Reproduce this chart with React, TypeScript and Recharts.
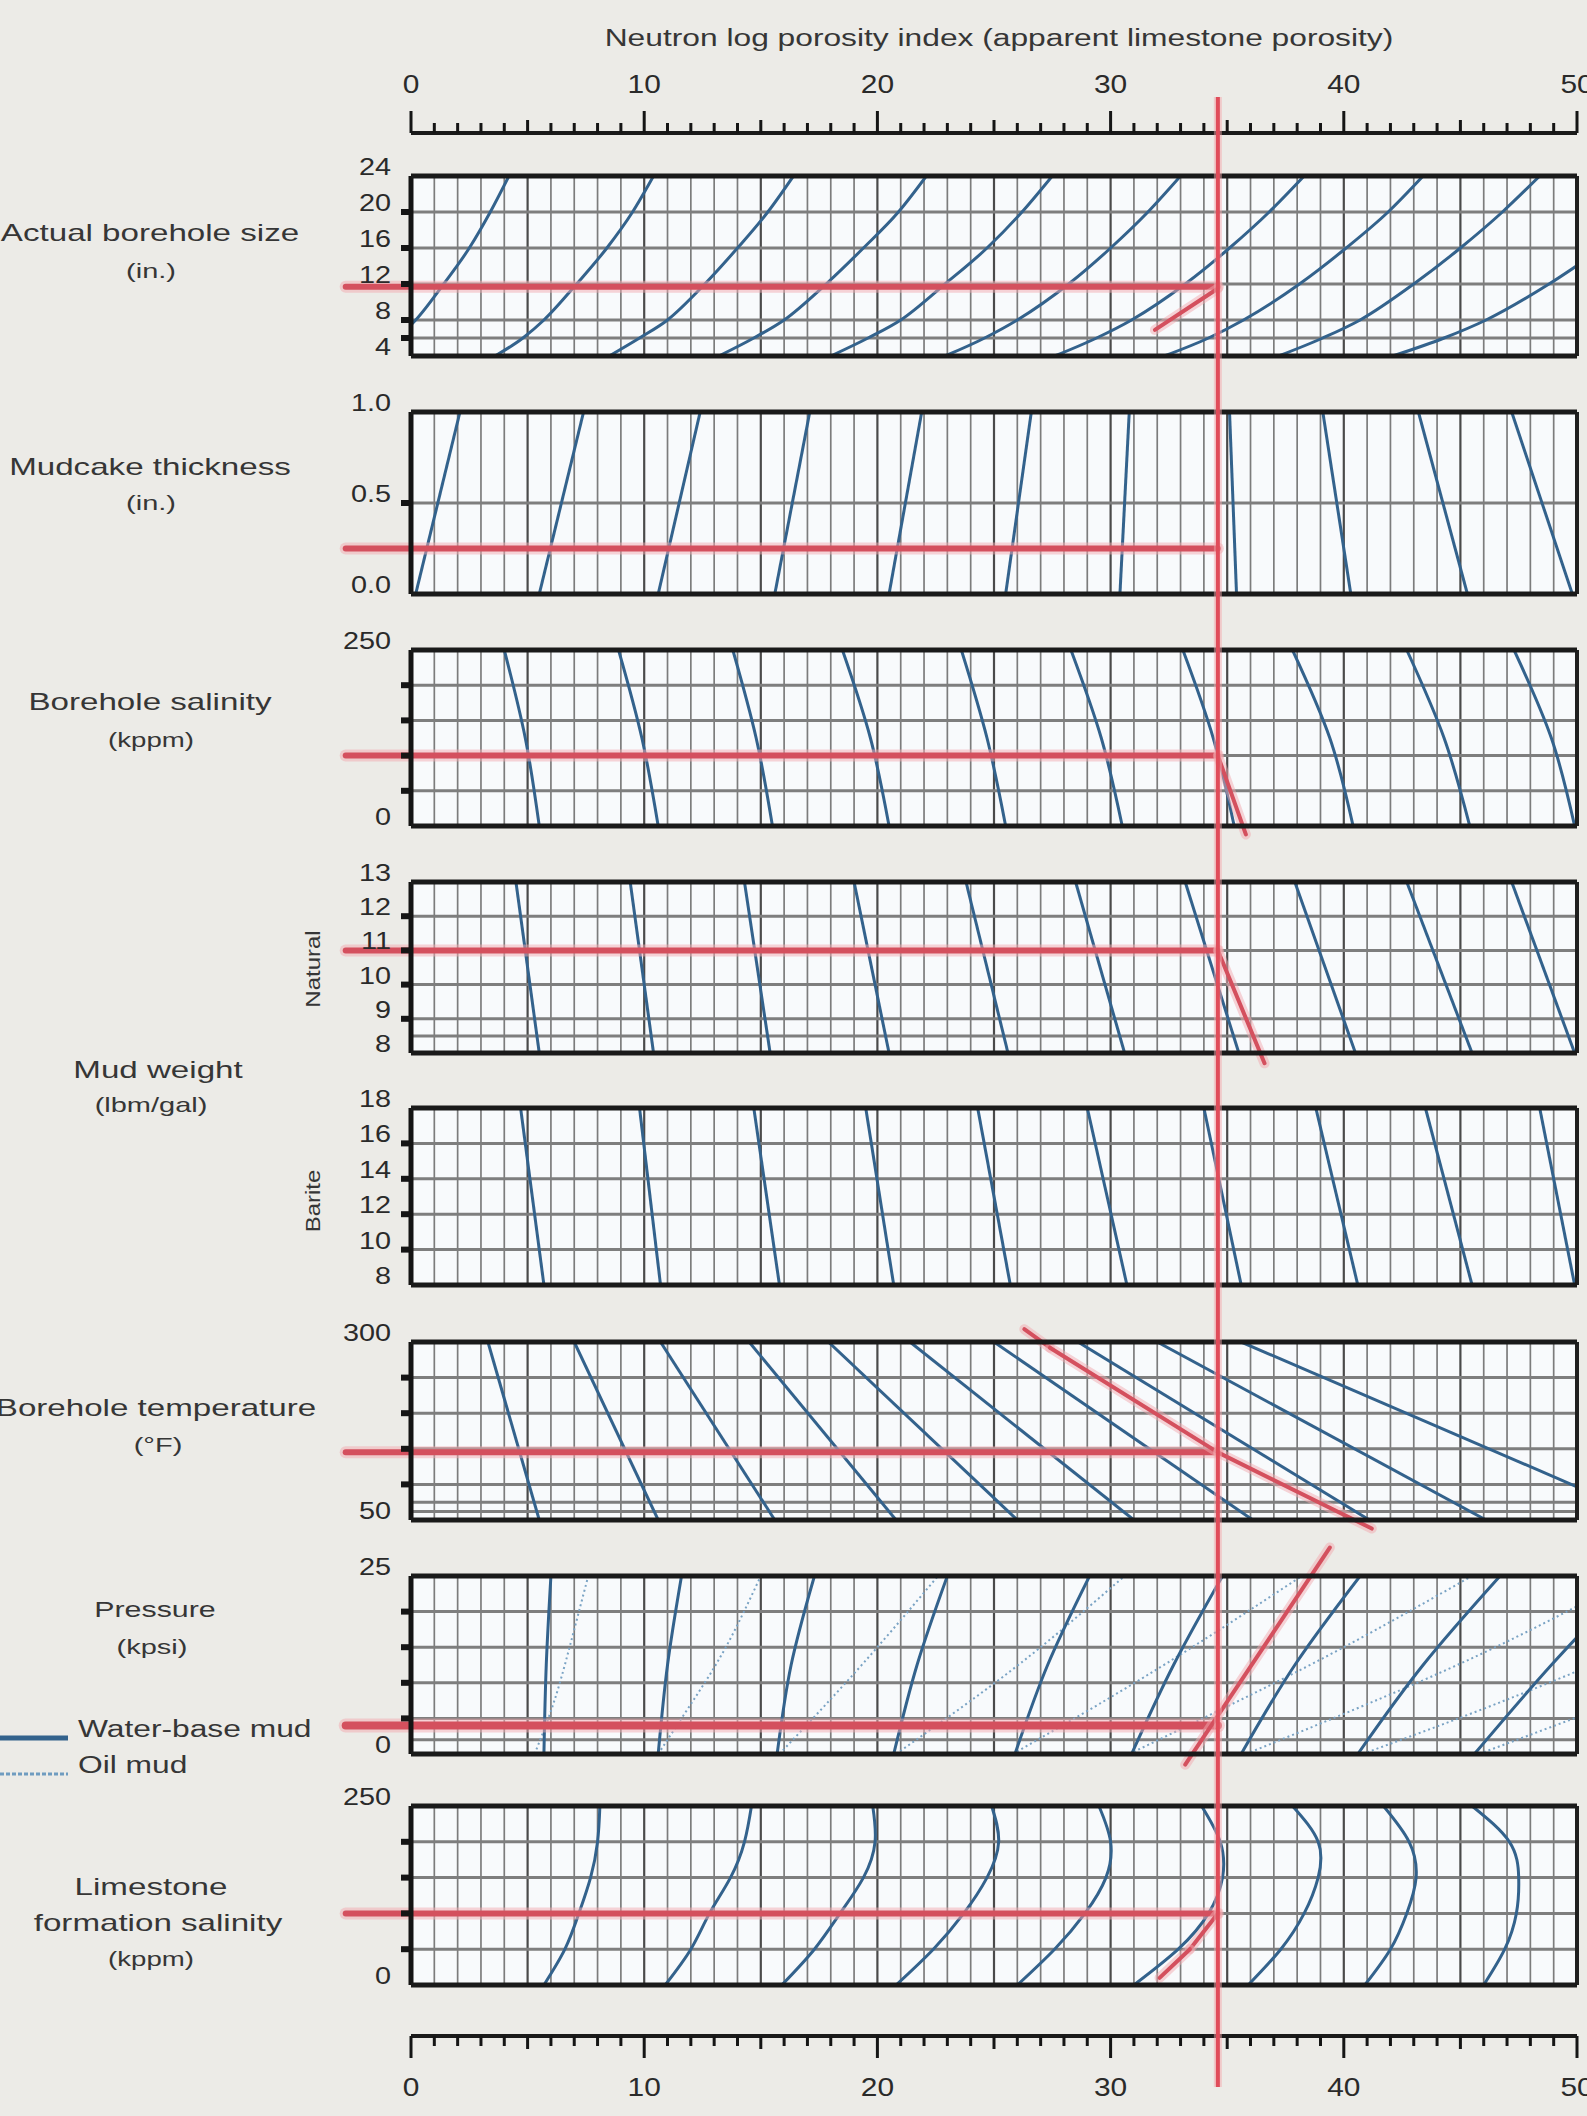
import React from 'react';
import { LineChart, Line, XAxis, YAxis, ReferenceLine, ReferenceArea } from 'recharts';

type Pair = [number, number];

// ---------- shared porosity scale ----------
const porosityGrid = [0,1,2,3,4,5,6,7,8,9,10,11,12,13,14,15,16,17,18,19,20,21,22,23,24,25,26,27,28,29,30,31,32,33,34,35,36,37,38,39,40,41,42,43,44,45,46,47,48,49,50];
const porosityLabelled = [0, 10, 20, 30, 40, 50];
const chosenPorosity = 34.6;
const redLeftEnd = -2.8;
const axisDummy = [{ p: 0, v: 0 }, { p: 50, v: 1 }];

// ---------- 1. Actual borehole size (in.) ----------
const sizeDomain: Pair = [4, 24];
const sizeTicks = [4, 6, 8, 12, 16, 20, 24];
const sizeTickLabels = ['4', '', '8', '12', '16', '20', '24'];
const sizeStubs = [6, 8, 12, 16, 20];
const sizeGrid = [6, 8, 12, 16, 20];
const sizeCurves: Pair[][] = [
  [[-1.6,4],[-0.6,6],[0.2,8],[1.4,12],[2.5,16],[3.4,20],[4.2,24]],
  [[3.6,4],[4.8,6],[5.7,8],[7.1,12],[8.4,16],[9.5,20],[10.4,24]],
  [[8.5,4],[9.8,6],[11.0,8],[12.6,12],[14.0,16],[15.3,20],[16.4,24]],
  [[13.2,4],[14.7,6],[16.0,8],[17.8,12],[19.4,16],[20.9,20],[22.1,24]],
  [[18.0,4],[19.6,6],[21.0,8],[22.9,12],[24.7,16],[26.2,20],[27.5,24]],
  [[22.9,4],[24.6,6],[26.0,8],[28.2,12],[30.0,16],[31.6,20],[33.0,24]],
  [[27.6,4],[29.4,6],[30.9,8],[33.2,12],[35.1,16],[36.8,20],[38.3,24]],
  [[32.3,4],[34.2,6],[35.7,8],[38.1,12],[40.1,16],[41.9,20],[43.4,24]],
  [[37.2,4],[39.1,6],[40.7,8],[43.0,12],[45.0,16],[46.8,20],[48.4,24]],
  [[42.1,4],[44.3,6],[46.1,8],[48.8,12],[51.1,16]],
];
const sizeRedLevel = 11.7;
const sizeRedPath: Pair[] = [[31.9, 6.9], [34.6, 11.5]];

// ---------- 2. Mudcake thickness (in.) ----------
const mudcakeDomain: Pair = [0, 1];
const mudcakeTicks = [0, 0.5, 1];
const mudcakeTickLabels = ['0.0', '0.5', '1.0'];
const mudcakeStubs = [0.5];
const mudcakeGrid = [0.5];
const mudcakeCurves: Pair[][] = [
  [[0.2,0],[2.1,1]], [[5.5,0],[7.4,1]], [[10.6,0],[12.4,1]], [[15.6,0],[17.1,1]],
  [[20.5,0],[21.9,1]], [[25.5,0],[26.6,1]], [[30.4,0],[30.8,1]], [[35.4,0],[35.1,1]],
  [[40.3,0],[39.1,1]], [[45.3,0],[43.2,1]], [[49.8,0],[47.2,1]],
];
const mudcakeRedLevel = 0.25;

// ---------- 3. Borehole salinity (kppm) ----------
const bhSalDomain: Pair = [0, 250];
const bhSalTicks = [0, 50, 100, 150, 200, 250];
const bhSalTickLabels = ['0', '', '', '', '', '250'];
const bhSalStubs = [50, 100, 150, 200];
const bhSalGrid = [50, 100, 150, 200];
const bhSalCurves: Pair[][] = [
  [[5.5,0],[4.9,125],[4.0,250]], [[10.6,0],[9.9,125],[8.9,250]], [[15.5,0],[14.8,125],[13.8,250]],
  [[20.5,0],[19.7,125],[18.5,250]], [[25.5,0],[24.7,125],[23.6,250]], [[30.5,0],[29.6,125],[28.3,250]],
  [[35.3,0],[34.4,125],[33.1,250]], [[40.4,0],[39.4,125],[37.8,250]], [[45.4,0],[44.3,125],[42.7,250]],
  [[49.9,0],[48.9,125],[47.3,250]],
];
const bhSalRedLevel = 100;
const bhSalRedPath: Pair[] = [[34.6, 100], [35.8, -12]];

// ---------- 4. Mud weight, natural (lbm/gal) ----------
const naturalDomain: Pair = [8, 13];
const naturalTicks = [8, 8.5, 9, 10, 11, 12, 13];
const naturalTickLabels = ['8', '', '9', '10', '11', '12', '13'];
const naturalStubs = [9, 10, 11, 12];
const naturalGrid = [8.5, 9, 10, 11, 12];
const naturalCurves: Pair[][] = [
  [[5.5,8],[4.5,13]], [[10.4,8],[9.4,13]], [[15.4,8],[14.3,13]], [[20.5,8],[19.0,13]],
  [[25.6,8],[23.8,13]], [[30.6,8],[28.5,13]], [[35.5,8],[33.2,13]], [[40.5,8],[37.9,13]],
  [[45.5,8],[42.7,13]], [[49.9,8],[47.2,13]],
];
const naturalRedLevel = 11;
const naturalRedPath: Pair[] = [[34.6, 11], [36.6, 7.7]];

// ---------- 5. Mud weight, barite (lbm/gal) ----------
const bariteDomain: Pair = [8, 18];
const bariteTicks = [8, 10, 12, 14, 16, 18];
const bariteTickLabels = ['8', '10', '12', '14', '16', '18'];
const bariteStubs = [10, 12, 14, 16];
const bariteGrid = [10, 12, 14, 16];
const bariteCurves: Pair[][] = [
  [[5.7,8],[4.7,18]], [[10.7,8],[9.8,18]], [[15.8,8],[14.7,18]], [[20.7,8],[19.5,18]],
  [[25.7,8],[24.3,18]], [[30.7,8],[29.0,18]], [[35.6,8],[34.0,18]], [[40.6,8],[38.8,18]],
  [[45.5,8],[43.5,18]], [[49.9,8],[48.4,18]],
];

// ---------- 6. Borehole temperature (°F) ----------
const tempDomain: Pair = [50, 300];
const tempTicks = [50, 62, 75, 100, 150, 200, 250, 300];
const tempTickLabels = ['50', '', '', '', '', '', '', '300'];
const tempStubs = [100, 150, 200, 250];
const tempGrid = [62, 75, 100, 150, 200, 250];
const tempCurves: Pair[][] = [
  [[5.5,50],[3.3,300]], [[10.6,50],[7.0,300]], [[15.6,50],[10.7,300]], [[20.8,50],[14.5,300]],
  [[26.0,50],[17.9,300]], [[31.0,50],[21.4,300]], [[36.1,50],[25.0,300]], [[41.1,50],[28.6,300]],
  [[46.1,50],[32.0,300]], [[53.3,50],[35.6,300]],
];
const tempRedLevel = 145;
const tempRedPath: Pair[] = [[26.3, 318], [27.4, 292], [34.6, 145], [41.2, 38]];

// ---------- 7. Pressure (kpsi) ----------
const pressDomain: Pair = [0, 25];
const pressTicks = [0, 2, 5, 10, 15, 20, 25];
const pressTickLabels = ['0', '', '', '', '', '', '25'];
const pressStubs = [5, 10, 15, 20];
const pressGrid = [2, 5, 10, 15, 20];
const pressWaterCurves: Pair[][] = [
  [[5.7,0],[5.8,12.5],[6.0,25]], [[10.6,0],[11.0,12.5],[11.6,25]], [[15.7,0],[16.3,12.5],[17.3,25]],
  [[20.7,0],[21.7,12.5],[23.0,25]], [[25.9,0],[27.3,12.5],[29.1,25]], [[30.9,0],[32.7,12.5],[34.8,25]],
  [[35.6,0],[37.9,12.5],[40.7,25]], [[40.6,0],[43.4,12.5],[46.7,25]], [[45.6,0],[48.9,12.5],[52.5,25]],
];
const pressOilCurves: Pair[][] = [
  [[5.3,0],[6.1,7],[6.8,15],[7.6,25]], [[10.6,0],[12.0,7],[13.5,15],[15.0,25]],
  [[15.8,0],[17.8,7],[20.0,15],[22.6,25]], [[20.8,0],[23.8,7],[27.0,15],[30.6,25]],
  [[25.8,0],[29.5,7],[33.5,15],[38.2,25]], [[30.8,0],[35.2,7],[40.0,15],[45.5,25]],
  [[35.8,0],[41.0,7],[46.5,15],[52.5,25]], [[40.8,0],[46.5,7],[52.5,15]], [[45.8,0],[51.5,7]],
];
const pressRedLevel = 4;
const pressRedPath: Pair[] = [[33.2, -1.5], [39.4, 29]];

// ---------- 8. Limestone formation salinity (kppm) ----------
const fmSalDomain: Pair = [0, 250];
const fmSalTicks = [0, 50, 100, 150, 200, 250];
const fmSalTickLabels = ['0', '', '', '', '', '250'];
const fmSalStubs = [50, 100, 150, 200];
const fmSalGrid = [50, 100, 150, 200];
const fmSalCurves: Pair[][] = [
  [[5.7,0],[6.6,50],[7.2,100],[7.7,150],[8.0,200],[8.1,250]],
  [[10.9,0],[12.0,50],[12.8,100],[13.7,150],[14.3,200],[14.6,250]],
  [[15.9,0],[17.3,50],[18.4,100],[19.4,150],[19.9,200],[19.8,250]],
  [[20.8,0],[22.4,50],[23.7,100],[24.7,150],[25.2,200],[24.9,250]],
  [[26.0,0],[27.6,50],[28.9,100],[29.8,150],[30.0,200],[29.5,250]],
  [[31.0,0],[32.9,50],[34.2,100],[34.8,150],[34.7,200],[33.9,250]],
  [[35.9,0],[37.3,50],[38.3,100],[38.9,150],[38.9,200],[37.8,250]],
  [[40.9,0],[42.0,50],[42.7,100],[43.1,150],[42.8,200],[41.7,250]],
  [[46.0,0],[46.9,50],[47.4,100],[47.5,150],[47.1,200],[45.5,250]],
];
const fmSalRedLevel = 100;
const fmSalRedPath: Pair[] = [[34.6, 100], [33.4, 50], [32.1, 10]];

// ---------- layout ----------
const PAGE_W = 1587;
const PAGE_H = 2116;
const PLOT_L = 411;
const PLOT_R = 1577;
const FONT = '"Liberation Sans", Arial, Helvetica, sans-serif';
const BLUE = '#33628c';
const RED = '#d4505e';

interface PanelSpec {
  top: number;
  height: number;
  domain: Pair;
  ticks: number[];
  tickLabels: string[];
  stubs: number[];
  grid: number[];
  curves: Pair[][];
  dotted?: Pair[][];
  smooth: 'linear' | 'monotone' | 'natural';
  redLevel?: number;
  redPath?: Pair[];
  redWidth?: number;
}

const panels: PanelSpec[] = [
  { top: 176, height: 180, domain: sizeDomain, ticks: sizeTicks, tickLabels: sizeTickLabels, stubs: sizeStubs, grid: sizeGrid, curves: sizeCurves, smooth: 'monotone', redLevel: sizeRedLevel, redPath: sizeRedPath },
  { top: 412, height: 182, domain: mudcakeDomain, ticks: mudcakeTicks, tickLabels: mudcakeTickLabels, stubs: mudcakeStubs, grid: mudcakeGrid, curves: mudcakeCurves, smooth: 'linear', redLevel: mudcakeRedLevel },
  { top: 650, height: 176, domain: bhSalDomain, ticks: bhSalTicks, tickLabels: bhSalTickLabels, stubs: bhSalStubs, grid: bhSalGrid, curves: bhSalCurves, smooth: 'natural', redLevel: bhSalRedLevel, redPath: bhSalRedPath },
  { top: 882, height: 171, domain: naturalDomain, ticks: naturalTicks, tickLabels: naturalTickLabels, stubs: naturalStubs, grid: naturalGrid, curves: naturalCurves, smooth: 'linear', redLevel: naturalRedLevel, redPath: naturalRedPath },
  { top: 1108, height: 177, domain: bariteDomain, ticks: bariteTicks, tickLabels: bariteTickLabels, stubs: bariteStubs, grid: bariteGrid, curves: bariteCurves, smooth: 'linear' },
  { top: 1342, height: 178, domain: tempDomain, ticks: tempTicks, tickLabels: tempTickLabels, stubs: tempStubs, grid: tempGrid, curves: tempCurves, smooth: 'linear', redLevel: tempRedLevel, redPath: tempRedPath },
  { top: 1576, height: 178, domain: pressDomain, ticks: pressTicks, tickLabels: pressTickLabels, stubs: pressStubs, grid: pressGrid, curves: pressWaterCurves, dotted: pressOilCurves, smooth: 'natural', redLevel: pressRedLevel, redPath: pressRedPath, redWidth: 8 },
  { top: 1806, height: 179, domain: fmSalDomain, ticks: fmSalTicks, tickLabels: fmSalTickLabels, stubs: fmSalStubs, grid: fmSalGrid, curves: fmSalCurves, smooth: 'natural', redLevel: fmSalRedLevel, redPath: fmSalRedPath },
];

const toPts = (c: Pair[]) => c.map(([p, v]) => ({ p, v }));

function redSegments(path: Pair[], keyBase: string, width: number) {
  const out: React.ReactNode[] = [];
  for (let i = 0; i < path.length - 1; i++) {
    const a = path[i];
    const b = path[i + 1];
    out.push(
      <ReferenceLine key={`${keyBase}h${i}`} segment={[{ x: a[0], y: a[1] }, { x: b[0], y: b[1] }]} ifOverflow="visible" stroke="#f2a9b0" strokeOpacity={0.5} strokeWidth={width + 6} strokeLinecap="round" />
    );
    out.push(
      <ReferenceLine key={`${keyBase}c${i}`} segment={[{ x: a[0], y: a[1] }, { x: b[0], y: b[1] }]} ifOverflow="visible" stroke={RED} strokeWidth={width} strokeLinecap="round" />
    );
  }
  return out;
}

function Panel({ spec, idx }: { spec: PanelSpec; idx: number }) {
  const mt = 45;
  const mb = 35;
  const h = spec.height + mt + mb;
  const [d0, d1] = spec.domain;
  const YTick = (props: any) => {
    const { x, y, payload } = props;
    const value = payload.value;
    const i = spec.ticks.indexOf(value);
    const label = i >= 0 ? spec.tickLabels[i] : '';
    const stub = spec.stubs.includes(value);
    return (
      <g>
        {stub && <rect x={x - 10} y={y - 3} width={9} height={6} fill="#151515" />}
        {label && (
          <text x={0} y={0} transform={`translate(${x - 20},${y - 1}) scale(1.2,1)`} textAnchor="end" fontSize={24} fontFamily={FONT} fill="#2a2a2a">
            {label}
          </text>
        )}
      </g>
    );
  };
  return (
    <div style={{ position: 'absolute', left: 0, top: spec.top - mt, width: PAGE_W, height: h }}>
      <LineChart width={PAGE_W} height={h} margin={{ top: mt, right: PAGE_W - PLOT_R, bottom: mb, left: 0 }}>
        <XAxis dataKey="p" type="number" domain={[0, 50]} allowDataOverflow hide />
        <YAxis type="number" domain={spec.domain} allowDataOverflow ticks={spec.ticks} interval={0} width={PLOT_L} tickSize={0} tickMargin={0} axisLine={false} tickLine={false} tick={YTick} />
        <ReferenceArea x1={0} x2={50} y1={d0} y2={d1} fill="#f8fafc" fillOpacity={1} stroke="none" />
        {porosityGrid.map((v) => (
          <ReferenceLine key={`gx${v}`} x={v} stroke={v % 5 === 0 ? '#4a4a4a' : '#7c7c7c'} strokeWidth={v % 5 === 0 ? 2.2 : 1.7} />
        ))}
        {spec.grid.map((v) => (
          <ReferenceLine key={`gy${v}`} y={v} stroke="#7e7e7e" strokeWidth={3} />
        ))}
        {(spec.dotted || []).map((c, i) => (
          <Line key={`d${idx}-${i}`} data={toPts(c)} dataKey="v" type="natural" stroke="#7aa3c4" strokeWidth={2} strokeDasharray="2 3" dot={false} isAnimationActive={false} />
        ))}
        {spec.curves.map((c, i) => (
          <Line key={`c${idx}-${i}`} data={toPts(c)} dataKey="v" type={spec.smooth} stroke={BLUE} strokeWidth={3} dot={false} isAnimationActive={false} />
        ))}
        {spec.redLevel !== undefined &&
          redSegments([[redLeftEnd, spec.redLevel], [chosenPorosity, spec.redLevel]], `rh${idx}`, spec.redWidth || 6)}
        {spec.redPath && redSegments(spec.redPath, `rp${idx}`, 4)}
        <ReferenceLine x={0} stroke="#141414" strokeWidth={5} />
        <ReferenceLine x={50} stroke="#1f1f1f" strokeWidth={4} />
        <ReferenceLine y={d0} stroke="#1a1a1a" strokeWidth={5} />
        <ReferenceLine y={d1} stroke="#1a1a1a" strokeWidth={5} />
      </LineChart>
    </div>
  );
}

const TopTick = (props: any) => {
  const { x, y, payload } = props;
  const v = payload.value as number;
  const len = v % 10 === 0 ? 22 : v % 5 === 0 ? 13 : 10;
  return (
    <g>
      <line x1={x} x2={x} y1={y} y2={y - len} stroke="#151515" strokeWidth={3} />
      {porosityLabelled.includes(v) && (
        <text x={0} y={0} transform={`translate(${x},${y - 40}) scale(1.15,1)`} textAnchor="middle" fontSize={26} fontFamily={FONT} fill="#2a2a2a">
          {v}
        </text>
      )}
    </g>
  );
};

const BottomTick = (props: any) => {
  const { x, y, payload } = props;
  const v = payload.value as number;
  const len = v % 10 === 0 ? 22 : v % 5 === 0 ? 13 : 10;
  return (
    <g>
      <line x1={x} x2={x} y1={y} y2={y + len} stroke="#151515" strokeWidth={3} />
      {porosityLabelled.includes(v) && (
        <text x={0} y={0} transform={`translate(${x},${y + 60}) scale(1.15,1)`} textAnchor="middle" fontSize={26} fontFamily={FONT} fill="#2a2a2a">
          {v}
        </text>
      )}
    </g>
  );
};

function TopAxis() {
  const axisY = 133;
  const h = 142;
  return (
    <div style={{ position: 'absolute', left: 0, top: 0, width: PAGE_W, height: h }}>
      <LineChart width={PAGE_W} height={h} margin={{ top: axisY - 1, right: PAGE_W - PLOT_R, bottom: 2, left: PLOT_L }}>
        <XAxis dataKey="p" type="number" domain={[0, 50]} orientation="top" height={1} ticks={porosityGrid} interval={0} tickSize={0} tickMargin={0} tickLine={false} axisLine={{ stroke: '#1a1a1a', strokeWidth: 4 }} tick={TopTick} />
        <YAxis hide domain={[0, 1]} />
        <Line data={axisDummy} dataKey="v" stroke="none" dot={false} isAnimationActive={false} />
      </LineChart>
    </div>
  );
}

function BottomAxis() {
  const top = 2000;
  const axisLocal = 36;
  const h = 116;
  return (
    <div style={{ position: 'absolute', left: 0, top, width: PAGE_W, height: h }}>
      <LineChart width={PAGE_W} height={h} margin={{ top: 2, right: PAGE_W - PLOT_R, bottom: h - axisLocal - 1, left: PLOT_L }}>
        <XAxis dataKey="p" type="number" domain={[0, 50]} orientation="bottom" height={1} ticks={porosityGrid} interval={0} tickSize={0} tickMargin={0} tickLine={false} axisLine={{ stroke: '#1a1a1a', strokeWidth: 4 }} tick={BottomTick} />
        <YAxis hide domain={[0, 1]} />
        <Line data={axisDummy} dataKey="v" stroke="none" dot={false} isAnimationActive={false} />
      </LineChart>
    </div>
  );
}

function RedVertical() {
  const top = 97;
  const h = 1990;
  return (
    <div style={{ position: 'absolute', left: 0, top, width: PAGE_W, height: h, pointerEvents: 'none' }}>
      <LineChart width={PAGE_W} height={h} margin={{ top: 0, right: PAGE_W - PLOT_R, bottom: 0, left: PLOT_L }}>
        <XAxis dataKey="p" type="number" domain={[0, 50]} hide />
        <YAxis hide domain={[0, 1]} />
        <Line data={axisDummy} dataKey="v" stroke="none" dot={false} isAnimationActive={false} />
        <ReferenceLine x={chosenPorosity} stroke="#f3a7ae" strokeOpacity={0.5} strokeWidth={8} />
        <ReferenceLine x={chosenPorosity} stroke="#e04c5a" strokeWidth={4} />
      </LineChart>
    </div>
  );
}

function Label({ cx, cy, text, size = 24, sx = 1.38 }: { cx: number; cy: number; text: string; size?: number; sx?: number }) {
  return (
    <div
      style={{
        position: 'absolute',
        left: cx,
        top: cy,
        transform: `translate(-50%, -50%) scaleX(${sx})`,
        fontFamily: FONT,
        fontSize: size,
        color: '#363636',
        whiteSpace: 'nowrap',
        lineHeight: 1,
      }}
    >
      {text}
    </div>
  );
}

function VLabel({ cx, cy, text }: { cx: number; cy: number; text: string }) {
  return (
    <div
      style={{
        position: 'absolute',
        left: cx,
        top: cy,
        transform: 'translate(-50%, -50%) rotate(-90deg) scaleX(1.2)',
        fontFamily: FONT,
        fontSize: 20,
        color: '#363636',
        whiteSpace: 'nowrap',
        lineHeight: 1,
      }}
    >
      {text}
    </div>
  );
}

export default function App() {
  return (
    <div style={{ position: 'absolute', left: 0, top: 0, width: PAGE_W, height: PAGE_H, background: '#ecebe7', overflow: 'hidden' }}>
      <Label cx={999} cy={38} text="Neutron log porosity index (apparent limestone porosity)" size={23} sx={1.38} />
      <TopAxis />
      {panels.map((s, i) => (
        <Panel key={i} spec={s} idx={i} />
      ))}
      <BottomAxis />

      <Label cx={150} cy={233} text="Actual borehole size" />
      <Label cx={151} cy={270} text="(in.)" size={21} />
      <Label cx={150} cy={467} text="Mudcake thickness" />
      <Label cx={151} cy={502} text="(in.)" size={21} />
      <Label cx={150} cy={702} text="Borehole salinity" />
      <Label cx={151} cy={740} text="(kppm)" size={20} />
      <Label cx={158} cy={1070} text="Mud weight" />
      <Label cx={151} cy={1104} text="(lbm/gal)" size={21} />
      <VLabel cx={313} cy={969} text="Natural" />
      <VLabel cx={313} cy={1201} text="Barite" />
      <Label cx={156} cy={1408} text="Borehole temperature" />
      <Label cx={158} cy={1444} text="(°F)" size={21} />
      <Label cx={155} cy={1610} text="Pressure" size={22} />
      <Label cx={152} cy={1646} text="(kpsi)" size={21} />
      <svg style={{ position: 'absolute', left: 0, top: 1720 }} width={80} height={70}>
        <line x1={0} x2={68} y1={18} y2={18} stroke={BLUE} strokeWidth={5} />
        <line x1={0} x2={68} y1={54} y2={54} stroke="#6f9cc0" strokeWidth={3} strokeDasharray="4 2" />
      </svg>
      <div style={{ position: 'absolute', left: 78, top: 1729, transform: 'translateY(-50%) scaleX(1.38)', transformOrigin: '0 50%', fontFamily: FONT, fontSize: 23, color: '#363636', whiteSpace: 'nowrap', lineHeight: 1 }}>
        Water-base mud
      </div>
      <div style={{ position: 'absolute', left: 78, top: 1765, transform: 'translateY(-50%) scaleX(1.38)', transformOrigin: '0 50%', fontFamily: FONT, fontSize: 23, color: '#363636', whiteSpace: 'nowrap', lineHeight: 1 }}>
        Oil mud
      </div>
      <Label cx={151} cy={1887} text="Limestone" />
      <Label cx={158} cy={1923} text="formation salinity" />
      <Label cx={151} cy={1959} text="(kppm)" size={20} />

      <RedVertical />
    </div>
  );
}
